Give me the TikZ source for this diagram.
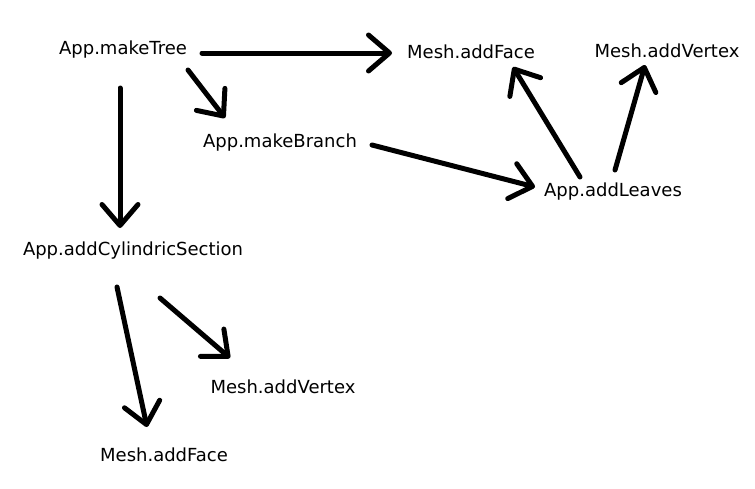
\documentclass[tikz,border=0pt]{standalone}
\usepackage{fontspec}
\setmainfont{DejaVu Sans}
\usetikzlibrary{arrows.meta,calc}
\begin{document}
\begin{tikzpicture}[x=1pt,y=-1pt,
  lbl/.style={inner sep=0pt,font=\fontsize{18}{21}\selectfont},
  conn/.style={line width=5pt,line cap=round,line join=round,
    -{Straight Barb[length=21pt,width=36pt,line cap=round,line join=round]}}]
\useasboundingbox (0,0) rectangle (755,488);
\node[lbl] (tree)   at (123,50)  {App.makeTree};
\node[lbl] (faceT)  at (471,52)  {Mesh.addFace};
\node[lbl] (vertT)  at (667,51)  {Mesh.addVertex};
\node[lbl] (branch) at (280,143) {App.makeBranch};
\node[lbl] (leaves) at (613,192) {App.addLeaves};
\node[lbl] (cyl)    at (133,251) {App.addCylindricSection};
\node[lbl] (vertB)  at (283,387) {Mesh.addVertex};
\node[lbl] (faceB)  at (164,455) {Mesh.addFace};
\draw[conn] ($(tree)+(79,3)$) -- ($(faceT)+(-79,1)$);
\draw[conn] ($(tree)+(65,20)$) -- ($(branch)+(-55,-25)$);
\draw[conn] ($(tree)+(-3,38)$) -- ($(cyl)+(-13,-23)$);
\draw[conn] ($(branch)+(92,2)$) -- ($(leaves)+(-78,-5)$);
\draw[conn] ($(leaves)+(-33,-15)$) -- ($(faceT)+(42,15)$);
\draw[conn] ($(leaves)+(2,-22)$) -- ($(vertT)+(-22,14)$);
\draw[conn] ($(cyl)+(-16,36)$) -- ($(faceB)+(-17,-28)$);
\draw[conn] ($(cyl)+(27,47)$) -- ($(vertB)+(-53,-29)$);
\end{tikzpicture}
\end{document}
